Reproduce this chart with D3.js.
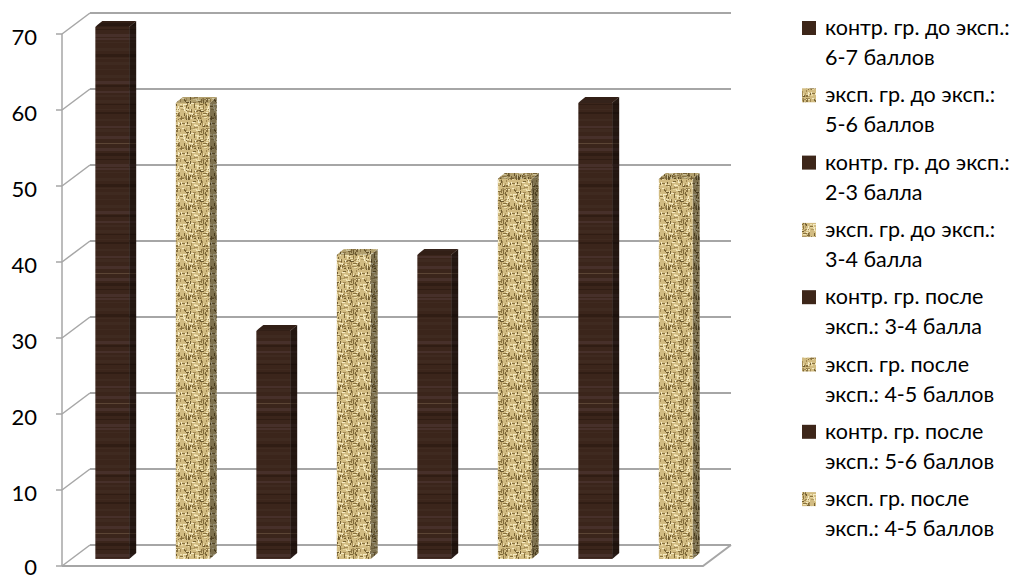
<!DOCTYPE html>
<html><head><meta charset="utf-8">
<script src="https://cdn.jsdelivr.net/npm/d3@7"></script>
<style>html,body{margin:0;padding:0;background:#fff;}svg{display:block;}</style>
</head><body>
<svg id="c" width="1015" height="580"></svg>
<script>
// ---- data ----
const categories = ["контр. гр. до эксп.: 6-7 баллов","эксп. гр. до эксп.: 5-6 баллов","контр. гр. до эксп.: 2-3 балла","эксп. гр. до эксп.: 3-4 балла","контр. гр. после эксп.: 3-4 балла","эксп. гр. после эксп.: 4-5 баллов","контр. гр. после эксп.: 5-6 баллов","эксп. гр. после эксп.: 4-5 баллов"];
const legendLine1 = ["контр. гр. до эксп.:","эксп. гр. до эксп.:","контр. гр. до эксп.:","эксп. гр. до эксп.:","контр. гр. после","эксп. гр. после","контр. гр. после","эксп. гр. после"];
const legendLine2 = ["6-7 баллов","5-6 баллов","2-3 балла","3-4 балла","эксп.: 3-4 балла","эксп.: 4-5 баллов","эксп.: 5-6 баллов","эксп.: 4-5 баллов"];
const values = [70, 60, 30, 40, 40, 50, 60, 50];
const groupType = ["k","e","k","e","k","e","k","e"];
const yTicks = [0,10,20,30,40,50,60,70];

const svg = d3.select("#c");
const defs = svg.append("defs");

// deterministic texture generator (style only)
let seed = 12345;
const rnd = () => { seed = (seed * 1103515245 + 12345) % 2147483648; return seed / 2147483648; };

// wood texture
const WH = 130;
const wood = defs.append("pattern").attr("id","wood").attr("patternUnits","userSpaceOnUse")
  .attr("width",60).attr("height",WH);
wood.append("rect").attr("width",60).attr("height",WH).attr("fill","#3b251b");
for (let yy = 0; yy < WH; ) {
  const h = 1 + Math.floor(rnd()*3);
  const light = rnd();
  const col = light > 0.85 ? "#5c4535" : light > 0.55 ? "#47302a" : light > 0.25 ? "#3f2a20" : "#301d14";
  wood.append("rect").attr("x",0).attr("y",yy).attr("width",60).attr("height",h).attr("fill",col);
  yy += h + 1 + Math.floor(rnd()*5);
}
// wicker texture
const WT = 30;
const wick = defs.append("pattern").attr("id","wick").attr("patternUnits","userSpaceOnUse")
  .attr("width",WT).attr("height",WT);
wick.append("rect").attr("width",WT).attr("height",WT).attr("fill","#d2bc82");
const wcols = ["#8a7340","#6f5b30","#a38a55","#efe3b4","#f5ebc6","#b39c63","#e6d49e","#7d6838"];
for (let k = 0; k < 190; k++) {
  const horiz = rnd() > 0.5;
  const w = horiz ? 2 + Math.floor(rnd()*3) : 1;
  const h = horiz ? 1 : 2 + Math.floor(rnd()*3);
  wick.append("rect").attr("x",Math.floor(rnd()*WT)).attr("y",Math.floor(rnd()*WT))
    .attr("width",w).attr("height",h).attr("fill",wcols[Math.floor(rnd()*wcols.length)]);
}

const fillOf = t => t==="k" ? "url(#wood)" : "url(#wick)";

// ---- geometry ----
const yFront = d3.scaleLinear().domain([0,70]).range([566,34]);
const DX = 28, DY = -21;           // wall depth
const BSX = 9, BSY = -7;            // bar plane shift from front plane
const BDX = 7, BDY = -6;            // bar depth
const x = d3.scaleBand().domain(d3.range(values.length)).range([63, 707])
  .paddingInner(0.58).paddingOuter(0.29);
const xEnd = 703;

const g = svg.append("g");
const gridColor = "#a6a6a6";
g.selectAll("line.grid").data(yTicks).join("line").attr("class","grid")
  .attr("x1",62+DX).attr("x2",xEnd+DX)
  .attr("y1",d=>yFront(d)+DY).attr("y2",d=>yFront(d)+DY)
  .attr("stroke",gridColor).attr("stroke-width",2);
g.selectAll("line.diag").data(yTicks).join("line").attr("class","diag")
  .attr("x1",62).attr("x2",62+DX)
  .attr("y1",d=>yFront(d)).attr("y2",d=>yFront(d)+DY)
  .attr("stroke",gridColor).attr("stroke-width",1.5);
g.append("path").attr("d",`M62,${yFront(0)}L${xEnd},${yFront(0)}L${xEnd+DX},${yFront(0)+DY}`)
  .attr("fill","none").attr("stroke",gridColor).attr("stroke-width",2);
g.append("line").attr("x1",62).attr("x2",62).attr("y1",yFront(0)).attr("y2",yFront(70))
  .attr("stroke",gridColor).attr("stroke-width",1.5);
g.selectAll("line.tick").data(yTicks).join("line").attr("class","tick")
  .attr("x1",56).attr("x2",62).attr("y1",d=>yFront(d)).attr("y2",d=>yFront(d))
  .attr("stroke",gridColor).attr("stroke-width",1.5);
g.selectAll("text.yl").data(yTicks).join("text").attr("class","yl")
  .attr("x",37).attr("y",d=>d===0 ? 575 : yFront(d)+11)
  .attr("text-anchor","end").attr("font-family","Lato, 'Open Sans', sans-serif")
  .attr("font-size",22).attr("fill","#000").text(d=>d);

// bars
const bars = g.selectAll("g.bar").data(values).join("g").attr("class","bar");
bars.each(function(v,i){
  const b = d3.select(this);
  const x0 = x(i)+BSX, w = x.bandwidth();
  const yT = yFront(v)+BSY, yB = yFront(0)+BSY;
  const f = fillOf(groupType[i]);
  const side = `M${x0+w},${yT}L${x0+w+BDX},${yT+BDY}L${x0+w+BDX},${yB+BDY}L${x0+w},${yB}Z`;
  const top = `M${x0+2},${yT-2}L${x0+BDX},${yT+BDY}L${x0+w+BDX},${yT+BDY}L${x0+w},${yT}L${x0},${yT}Z`;
  b.append("path").attr("d",side).attr("fill",f);
  b.append("path").attr("d",side).attr("fill","#000").attr("opacity",0.4);
  b.append("path").attr("d",top).attr("fill",f);
  b.append("path").attr("d",top).attr("fill","#000").attr("opacity",0.15);
  b.append("rect").attr("x",x0).attr("y",yT).attr("width",w).attr("height",yB-yT).attr("fill",f);
});

// legend
const lg = svg.append("g");
const LY0 = 28, LSTEP = 67.3;
const lfont = "Lato, 'Open Sans', sans-serif";
legendLine1.forEach((t,i)=>{
  const cy = LY0 + i*LSTEP;
  lg.append("rect").attr("x",802).attr("y",cy-7).attr("width",14).attr("height",14)
    .attr("fill", groupType[i]==="k" ? "#3d2619" : "url(#wick)");
  lg.append("text").attr("x",825).attr("y",cy+7).attr("font-family",lfont)
    .attr("font-size",21.5).attr("fill","#000").text(t);
  lg.append("text").attr("x",825).attr("y",cy+37).attr("font-family",lfont)
    .attr("font-size",21.5).attr("fill","#000").text(legendLine2[i]);
});
</script>
</body></html>
